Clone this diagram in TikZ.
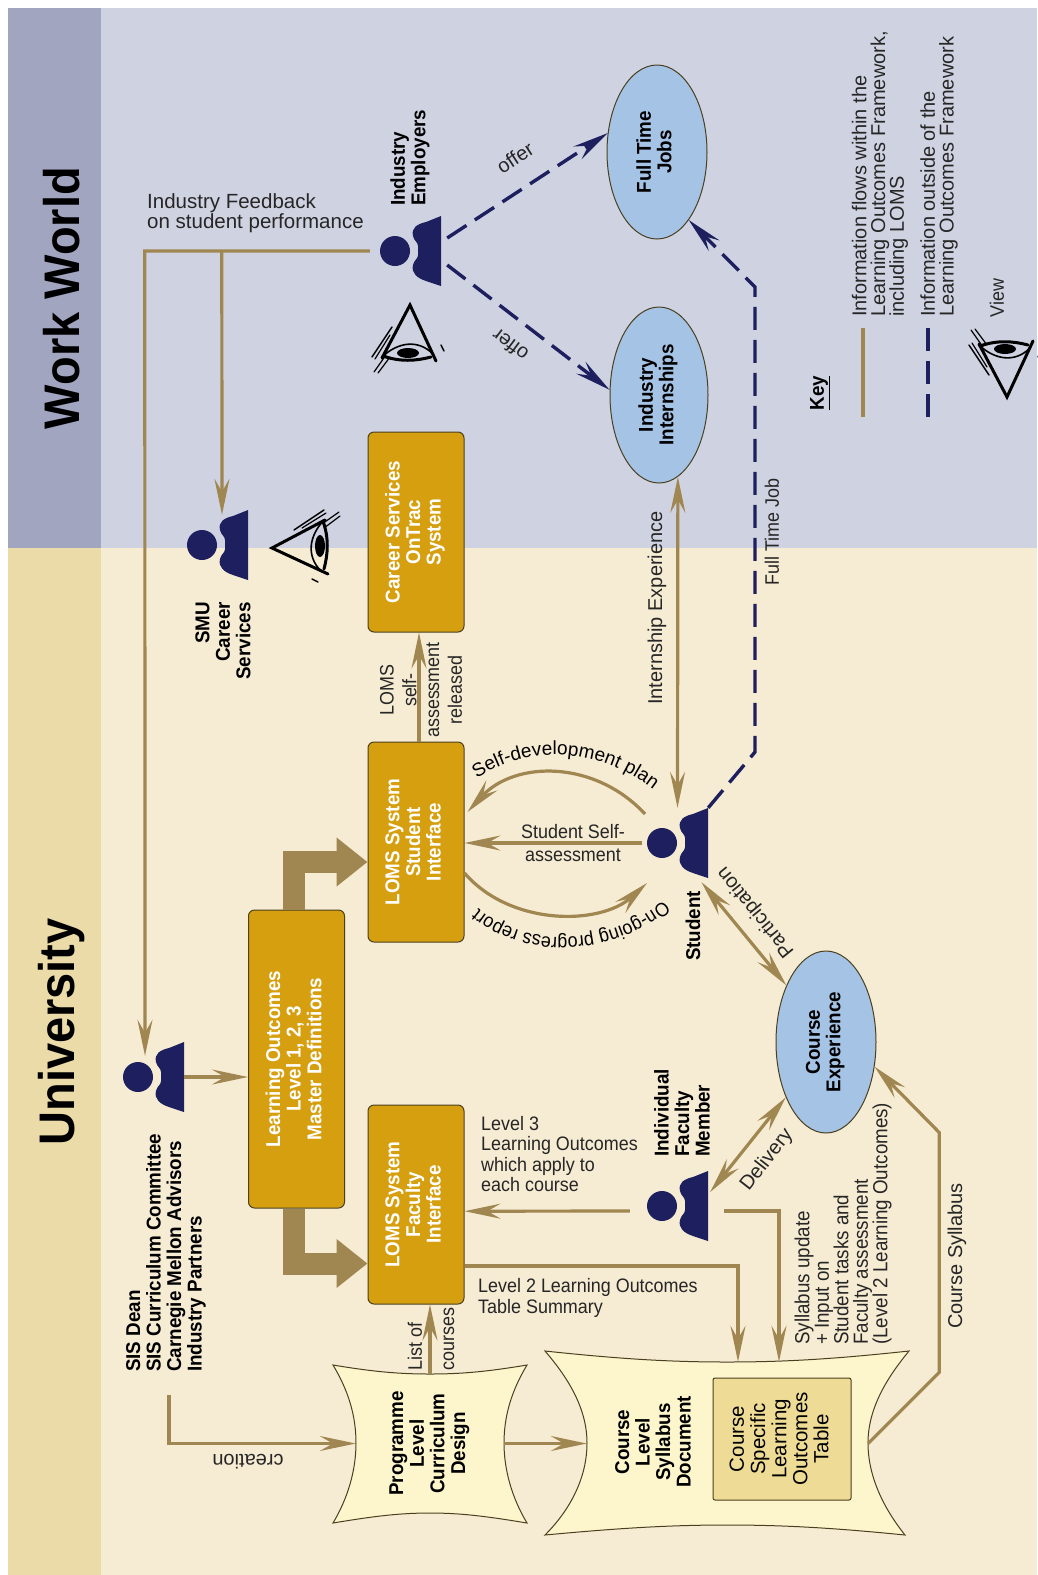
\documentclass[tikz,border=0pt]{standalone}
\usepackage{fontspec}
\usetikzlibrary{arrows.meta,calc,shapes.geometric,decorations.text}
\setmainfont{Liberation Sans}
\newfontfamily\rgfam[FakeStretch=.92]{Liberation Sans}
\newfontfamily\kffam{Liberation Sans}
\newfontfamily\bdfam[FakeStretch=.94]{Liberation Sans}
\newcommand{\rgf}{\rgfam\fontsize{19.5}{20.5}\selectfont}
\newcommand{\kff}{\kffam\fontsize{20}{18.7}\selectfont}
\newcommand{\tbf}{\kffam\fontsize{20.5}{21}\selectfont}
\newcommand{\bdf}{\bdfam\bfseries\fontsize{20}{20.5}\selectfont}
\newcommand{\ttf}{\bdfam\bfseries\fontsize{50}{50}\selectfont}
\newcommand{\rlab}[1]{\rotatebox{90}{\begin{tabular}{@{}c@{}}#1\end{tabular}}}
\definecolor{brownc}{HTML}{A08650}
\definecolor{navyc}{HTML}{1E1F5E}
\definecolor{uni}{HTML}{F6EBD3}
\definecolor{uniband}{HTML}{EADBA8}
\definecolor{work}{HTML}{CFD3E1}
\definecolor{workband}{HTML}{A2A5C0}
\definecolor{boxc}{HTML}{D69F10}
\definecolor{docc}{HTML}{FDF6CC}
\definecolor{tablec}{HTML}{EEDB95}
\definecolor{ellc}{HTML}{A5C3E5}
\definecolor{edgec}{HTML}{4A4020}
\tikzset{
  tipb/.tip={Stealth[length=36pt,width=15pt,inset=13pt]},
  flow/.style={draw=brownc,line width=3.2pt,line join=miter},
  flowa/.style={flow,-tipb},
  flowd/.style={flow,tipb-tipb},
  thick arrow/.style={draw=brownc,line width=22pt,line join=miter,-{Triangle[length=31pt,width=47pt]}},
  dash flow/.style={draw=navyc,line width=3.4pt,dash pattern=on 23pt off 10pt},
  navya/.style={dash flow,-{Stealth[length=36pt,width=15pt,inset=13pt]}},
  goldbox/.style={draw=edgec,line width=1pt,fill=boxc,rounded corners=6pt,inner sep=0pt,text=white,font=\bdf},
  oval/.style={ellipse,draw=edgec,line width=1pt,fill=ellc,inner sep=0pt,font=\bdf},
  lab/.style={inner sep=0pt,font=\rgf,align=center,text=black!85},
  clab/.style={inner sep=0pt,font=\kff,align=center,text=black!85},
  lableft/.style={inner sep=0pt,font=\rgf,align=left,text=black!85},
  blab/.style={inner sep=0pt,font=\bdf,align=center},
  bleft/.style={inner sep=0pt,font=\bdf,align=left},
  bright/.style={inner sep=0pt,font=\bdf,align=right},
  keyt/.style={inner sep=0pt,font=\kff,align=left,text=black!85},
  ptbox/.style={inner sep=0pt,minimum width=61pt,minimum height=70pt},
  docbox/.style={inner sep=0pt,font=\bdf},
}
\newcommand{\person}[3]{%
  \node[ptbox] (#1) at (#2+15.5,#3) {};
  \begin{scope}[shift={(#2,#3)}]
    \fill[navyc] (0,0) circle[radius=15pt];
    \fill[navyc] (46,-35) -- (46,35) -- (31,30) .. controls (22,27) and (16,22) .. (18,14)
      .. controls (19,9) and (23,8) .. (23,4) -- (23,-5) .. controls (23,-9) and (19,-10) .. (18,-15)
      .. controls (16,-23) and (22,-27) .. (31,-29) -- cycle;
  \end{scope}}
\newcommand{\eyeg}[3]{%
  \begin{scope}[shift={(#1,#2)},#3,line cap=round]
    \draw[line width=3pt] (53,-28) -- (0,0) -- (56,26);
    \draw[line width=1.6pt] (52,-28) .. controls (37,-12) and (34,8) .. (49,23);
    \draw[line width=3pt] (51,-27) .. controls (57,-10) and (56,6) .. (52,21);
    \fill (48,-2) ellipse[x radius=5pt,y radius=11pt];
    \draw[line width=1.5pt] (22,-18) -- (52,-38);
    \draw[line width=1.2pt] (30,-20) -- (54,-35);
    \draw[line width=1.2pt] (50,-24) -- (67,-36);
    \draw[line width=1.2pt] (52,-20) -- (68,-32);
    \draw[line width=1.5pt] (40,31) -- (46,34);
  \end{scope}}
\begin{document}
\begin{tikzpicture}[x=1pt,y=-1pt]
\useasboundingbox (0,0) rectangle (1037,1575);
\fill[white] (0,0) rectangle (1037,1575);
\fill[uni] (8,548) rectangle (1037,1575);
\fill[uniband] (8,548) rectangle (101,1575);
\fill[work] (8,8) rectangle (1037,548);
\fill[workband] (8,8) rectangle (101,548);
\node[blab,font=\ttf,rotate=90] (tuni) at (62,1032) {University};
\node[blab,font=\ttf,rotate=90] (twork) at (62,298) {Work World};

% document shapes
\fill[docc,draw=edgec,line width=1pt] (333,1365) .. controls (375,1372) and (400,1374) .. (430,1374)
  .. controls (460,1374) and (485,1372) .. (527,1365)
  .. controls (512,1390) and (504,1415) .. (504,1443)
  .. controls (504,1470) and (512,1498) .. (527,1523)
  .. controls (485,1516) and (460,1513) .. (430,1513)
  .. controls (400,1513) and (375,1516) .. (333,1523)
  .. controls (348,1498) and (356,1470) .. (356,1443)
  .. controls (356,1415) and (348,1390) .. (333,1365) -- cycle;
\fill[docc,draw=edgec,line width=1pt] (545,1351) .. controls (620,1359) and (670,1362) .. (727,1362)
  .. controls (785,1362) and (835,1359) .. (909,1351)
  .. controls (885,1380) and (868,1410) .. (868,1443)
  .. controls (868,1478) and (885,1510) .. (905,1535)
  .. controls (835,1528) and (785,1525) .. (727,1525)
  .. controls (670,1525) and (620,1528) .. (545,1535)
  .. controls (570,1510) and (587,1478) .. (587,1443)
  .. controls (587,1410) and (570,1380) .. (545,1351) -- cycle;
\node[docbox,minimum width=148pt,minimum height=139pt] (pl) at (430,1443.5)
  {\rlab{Programme\\Level\\Curriculum\\Design}};
\node[inner sep=0pt,minimum width=281pt,minimum height=163pt] (cd) at (727.5,1443.5) {};
\node[blab,rotate=90] (cdt) at (653,1442) {Course\\Level\\Syllabus\\Document};
\node[draw=edgec,line width=1pt,fill=tablec,rounded corners=2pt,inner sep=0pt,minimum width=138pt,minimum height=122pt,font=\tbf] (tb) at (782,1439)
  {\rlab{Course\\Specific\\Learning\\Outcomes\\Table}};

% boxes
\node[goldbox,minimum width=96pt,minimum height=298pt] (lo) at (296.5,1059)
  {\rlab{Learning Outcomes\\Level 1, 2, 3\\Master Definitions}};
\node[goldbox,minimum width=96pt,minimum height=199pt] (fac) at (416,1204.5)
  {\rlab{LOMS System\\Faculty\\Interface}};
\node[goldbox,minimum width=96pt,minimum height=200pt] (stu) at (416,842)
  {\rlab{LOMS System\\Student\\Interface}};
\node[goldbox,minimum width=96pt,minimum height=200pt] (car) at (416,532)
  {\rlab{Career Services\\OnTrac\\System}};

% ellipses
\node[oval,minimum width=100pt,minimum height=182pt] (ce) at (826,1042) {\rlab{Course\\Experience}};
\node[oval,minimum width=100pt,minimum height=174pt] (fj) at (657,152) {\rlab{Full Time\\Jobs}};
\node[oval,minimum width=98pt,minimum height=176pt] (ii) at (659,395) {\rlab{Industry\\Internships}};

% people
\person{dean}{138}{1077}
\person{smu}{202}{545}
\person{ie}{395}{251}
\person{fm}{662}{1206}
\person{st}{662}{843}

% eyes
\eyeg{410}{305}{rotate=-90,yscale=-1}
\eyeg{272}{548}{rotate=0}
\eyeg{1007}{397}{rotate=90}

% person labels
\node[bleft,rotate=90,anchor=west] (deant) at (166,1372) {SIS Dean\\SIS Curriculum Committee\\Carnegie Mellon Advisors\\Industry Partners};
\node[bright,rotate=90,anchor=east] (smut) at (223,602) {SMU\\Career\\Services};
\node[bleft,rotate=90,anchor=west] (iet) at (410,206) {Industry\\Employers};
\node[bleft,rotate=90,anchor=west] (fmt) at (682,1157) {Individual\\Faculty\\Member};
\node[blab,rotate=90] (stt) at (693,926) {Student};

% connectors
\draw[flowa] (dean.east) -- (lo.west |- dean.east);
\coordinate (cr0) at ($(dean.south)+(15.5,283)$);
\draw[flowa] (cr0) |- (pl.west);
\draw[flowa] (pl.north) -- (pl.north |- fac.south);
\draw[flowa] (pl.east) -- (cd.west);
\draw[flowa] ($(fac.east)+(0,61.5)$) -| ($(cd.north)+(10.5,0)$);
\draw[flowa,shorten <=17pt] ($(fm.west)+(0,5)$) -- ($(fac.east)+(0,6.7)$);
\draw[flowa,shorten <=16pt] ($(fm.east)+(0,5)$) -| ($(cd.north)+(51.5,0)$);
\draw[thick arrow] ($(lo.south)+(-2.5,0)$) |- ($(fac.west)+(0,59)$);
\draw[thick arrow] ($(lo.north)+(-2.5,0)$) |- ($(stu.west)+(0,20)$);
\draw[flowa,shorten <=5pt] ($(st.west)+(0,0)$) -- (st.west -| stu.east);
\draw[flowa] (645,814) .. controls (595,760) and (515,760) .. ($(stu.east)+(3,-30)$);
\draw[flowa] ($(stu.east)+(0,31)$) .. controls (510,926) and (600,926) .. (647,883);
\draw[flowa] ($(stu.north)+(3,0)$) -- ($(car.south)+(3,0)$);
\draw[flowd] (st.north) -- (ii.-77.6);
\draw[flowd] ($(st.south)+(24,4)$) -- (ce.125);
\draw[flowd] ($(fm.east)+(2,-14)$) -- (ce.-126);
\draw[flowa] (cd.east) -- ++(71,-71) -- ++(0,-240) -- (ce.-27);
\coordinate (fb0) at ($(ie.west)+(-10,0)$);
\coordinate (fb1) at ($(ie.west)+(-235,0)$);
\coordinate (fb2) at ($(ie.west)+(-158,0)$);
\draw[flowa] (fb0) -- (fb1) -- ($(dean.north)+(-8.5,14)$);
\draw[flowa] (fb2) -- ($(smu.north)+(4.5,5)$);
\draw[navya] ($(ie.east)+(6,14)$) -- (ii.174);
\draw[navya] ($(ie.east)+(6,-13)$) -- (fj.159);
\coordinate (fa) at (755,752);
\coordinate (fbb) at (755,287);
\draw[navya] (st.north east) -- (fa) -- (fbb) -- (fj.-65);

% connector labels
\node[clab,rotate=180] (lcre) at (248,1462) {creation};
\node[lableft,rotate=90,anchor=west] (l1) at (415,1371) {List of};
\node[lableft,rotate=90,anchor=west] (l2) at (449,1371) {courses};
\node[lableft,anchor=west] (l3) at (481,1154) {Level 3\\Learning Outcomes\\which apply to\\each course};
\node[lableft,anchor=west] (l4) at (478,1298) {Level 2 Learning Outcomes\\Table Summary};
\node[lableft,rotate=90,anchor=west,font=\rgfam\fontsize{20.4}{19.5}\selectfont] (l5) at (843,1345) {Syllabus update\\+ Input on\\Student tasks and\\Faculty assessment\\(Level 2 Learning Outcomes)};
\node[clab,rotate=90] (l6) at (957,1256) {Course Syllabus};
\node[clab,rotate=52] (l7) at (767,1160) {Delivery};
\node[clab,rotate=129] (l8) at (756,912) {Participation};
\node[lab,font=\rgfam\fontsize{19.5}{23}\selectfont] (l9) at (573,843) {Student Self-\\assessment};
\node[lab,rotate=90,font=\rgfam\fontsize{19.5}{22.7}\selectfont] (l10) at (421,690) {LOMS\\self-\\assessment\\released};
\node[clab,rotate=90] (l11) at (657,608) {Internship Experience};
\node[lab,rotate=90] (l12) at (772,532) {Full Time Job};
\node[clab,rotate=33] (l13) at (515,158) {offer};
\node[clab,rotate=143] (l14) at (510,345) {offer};
\node[lableft,anchor=west,font=\kffam\fontsize{20.5}{19}\selectfont] (l15) at (147,213) {Industry Feedback\\on student performance};
\path[decorate,decoration={text along path,text align=center,text={|\kffam\fontsize{19}{20}\selectfont|Self-development plan}}]
  (468,785) .. controls (520,743) and (600,743) .. (662,797);
\path[decorate,decoration={text along path,text align=center,text={|\rgfam\fontsize{19.5}{20}\selectfont|On-going progress report}}]
  (670,895) .. controls (610,950) and (520,950) .. (472,903);

% key
\node[blab,rotate=90] (kk) at (820,393) {\underline{Key}};
\coordinate (k1a) at (863,328);
\coordinate (k1b) at (863,417);
\coordinate (k2a) at (928,328);
\coordinate (k2b) at (928,417);
\draw[flow] (k1a) -- (k1b);
\draw[dash flow] (k2a) -- (k2b);
\node[keyt,rotate=90,anchor=west] (k3) at (880,317) {Information flows within the\\Learning Outcomes Framework,\\including LOMS};
\node[keyt,rotate=90,anchor=west] (k4) at (939,317) {Information outside of the\\Learning Outcomes Framework};
\node[lab,rotate=90] (k5) at (997,298) {View};
\end{tikzpicture}
\end{document}
